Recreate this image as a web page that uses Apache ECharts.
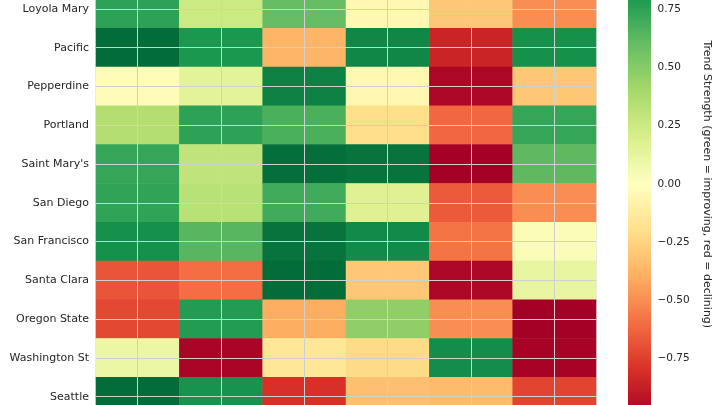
<!DOCTYPE html>
<html>
<head>
<meta charset="utf-8">
<script src="https://cdn.jsdelivr.net/npm/echarts@6/dist/echarts.min.js"></script>
<style>html,body{margin:0;padding:0;background:#fff}#c{width:720px;height:405px}</style>
</head>
<body>
<div id="c"></div>
<script>
// Row categories (top to bottom)
const schools = ["Loyola Mary","Pacific","Pepperdine","Portland","Saint Mary's","San Diego","San Francisco","Santa Clara","Oregon State","Washington St","Seattle"];
// Column categories (labels are outside the visible frame)
const columns = ["Col 1","Col 2","Col 3","Col 4","Col 5","Col 6"];
// Trend strength values per column, one per school
const col1 = [0.75, 0.98, -0.02, 0.35, 0.73, 0.74, 0.83, -0.68, -0.72, 0.10, 0.98];
const col2 = [0.25, 0.80, 0.15, 0.75, 0.30, 0.33, 0.64, -0.60, 0.78, -0.98, 0.82];
const col3 = [0.60, -0.37, 0.90, 0.67, 0.97, 0.70, 0.95, 0.98, -0.40, -0.15, -0.80];
const col4 = [-0.05, 0.87, -0.05, -0.20, 0.95, 0.17, 0.86, -0.30, 0.47, -0.22, -0.33];
const col5 = [-0.30, -0.85, -0.97, -0.62, -1.00, -0.66, -0.58, -0.97, -0.50, 0.85, -0.35];
const col6 = [-0.50, 0.83, -0.30, 0.73, 0.62, -0.50, 0.03, 0.12, -1.00, -0.99, -0.73];
const colorTicks = [-0.75, -0.5, -0.25, 0, 0.25, 0.5, 0.75];
const cbLabel = "Trend Strength (green = improving, red = declining)";

const cols = [col1, col2, col3, col4, col5, col6];
const data = [];
cols.forEach((arr, x) => arr.forEach((v, y) => data.push([x, y, v])));

const RdYlGn = ['#a50026','#d73027','#f46d43','#fdae61','#fee08b','#ffffbf','#d9ef8b','#a6d96a','#66bd63','#1a9850','#006837'];

const chart = echarts.init(document.getElementById('c'), null, {renderer: 'canvas'});
const gridTop = -10.5, rowH = 38.78;
const gridH = rowH * schools.length;
const cbTop = -49.3, cbH = 466.3;

chart.setOption({
  animation: false,
  backgroundColor: '#ffffff',
  textStyle: {fontFamily: 'DejaVu Sans'},
  grid: [
    {left: 96, width: 500, top: gridTop, height: gridH, show: true, borderColor: '#d0d0d0', borderWidth: 1, backgroundColor: 'transparent', outerBoundsMode: 'none', containLabel: false},
    {left: 628, width: 23, top: cbTop, height: cbH, show: false, outerBoundsMode: 'none', containLabel: false}
  ],
  xAxis: [
    {type: 'category', data: columns, gridIndex: 0, axisLabel: {show: false}, axisTick: {show: false}, axisLine: {show: false}, splitLine: {show: false}},
    {type: 'value', gridIndex: 1, show: false, min: 0, max: 1}
  ],
  yAxis: [
    {type: 'category', data: schools, inverse: true, gridIndex: 0,
     axisLabel: {fontSize: 11, color: '#262626', margin: 7, fontFamily: 'DejaVu Sans'},
     axisTick: {show: false}, axisLine: {show: false}, splitLine: {show: false}},
    {type: 'value', gridIndex: 1, min: -1, max: 1, interval: 0.25, position: 'right',
     axisLine: {show: false},
     axisTick: {show: true, length: 3.5, lineStyle: {color: '#333', width: 0.8}},
     splitLine: {show: false},
     axisLabel: {fontSize: 10.5, color: '#262626', margin: 6.5, fontFamily: 'DejaVu Sans',
       formatter: v => colorTicks.some(t => Math.abs(t - v) < 1e-9) ? ((v < 0 ? '\u2212' : '') + Math.abs(v).toFixed(2)) : ''}}
  ],
  visualMap: {
    type: 'continuous', min: -1, max: 1, calculable: false, show: true,
    orient: 'vertical', left: 628, top: cbTop, itemWidth: 23, itemHeight: cbH,
    padding: 0, text: null, showLabel: false,
    inRange: {color: RdYlGn}, seriesIndex: 0,
    borderColor: '#d0d0d0', borderWidth: 0
  },
  graphic: [{
    type: 'text', x: 707, y: 184.3, rotation: -Math.PI / 2,
    style: {text: cbLabel, fontSize: 11, fill: '#262626', fontFamily: 'DejaVu Sans', align: 'center', verticalAlign: 'middle'}
  }],
  series: [{
    type: 'heatmap', xAxisIndex: 0, yAxisIndex: 0, data: data,
    itemStyle: {borderWidth: 0},
    emphasis: {disabled: true},
    markLine: {
      silent: true, symbol: 'none', animation: false,
      label: {show: false},
      lineStyle: {color: '#d0d0d0', width: 1, type: 'solid', opacity: 1},
      data: columns.map(c => ({xAxis: c})).concat(schools.map(s => ({yAxis: s})))
    }
  }]
});
</script>
</body>
</html>
